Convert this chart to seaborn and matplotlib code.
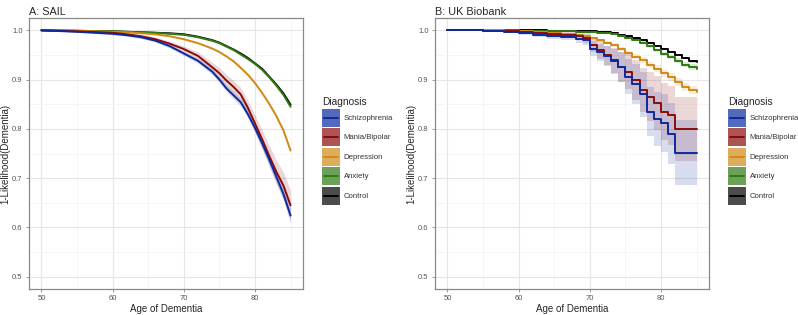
import matplotlib
matplotlib.use("Agg")
import matplotlib.pyplot as plt
import pandas as pd
import seaborn as sns
from matplotlib.lines import Line2D
from matplotlib.patches import Rectangle

# ---- data ----
GROUPS = ["Schizophrenia", "Mania/Bipolar", "Depression", "Anxiety", "Control"]
COLORS = ["#0a2a9e", "#8b0a0a", "#d08a16", "#2f7a12", "#000000"]

# Panel A: SAIL (smooth curves)
AGES_A = [50, 55, 60, 62, 64, 66, 68, 70, 72, 74, 75, 76, 77, 78, 79, 80, 81, 82, 83, 84, 85]
SAIL_SCZ = [1.0, 0.997, 0.993, 0.990, 0.986, 0.979, 0.968, 0.953, 0.938, 0.916, 0.900, 0.882, 0.868, 0.854, 0.830, 0.802, 0.771, 0.738, 0.703, 0.668, 0.624]
SAIL_BIP = [1.0, 0.998, 0.995, 0.992, 0.988, 0.982, 0.973, 0.962, 0.948, 0.925, 0.913, 0.898, 0.885, 0.870, 0.843, 0.811, 0.779, 0.745, 0.713, 0.685, 0.645]
SAIL_DEP = [1.0, 0.999, 0.997, 0.996, 0.994, 0.992, 0.988, 0.982, 0.974, 0.963, 0.956, 0.947, 0.937, 0.924, 0.910, 0.893, 0.873, 0.851, 0.826, 0.797, 0.756]
SAIL_ANX = [1.0, 0.999, 0.998, 0.997, 0.996, 0.995, 0.993, 0.991, 0.986, 0.979, 0.974, 0.967, 0.960, 0.951, 0.942, 0.932, 0.920, 0.905, 0.888, 0.869, 0.845]
SAIL_CTL = [1.0, 0.999, 0.998, 0.997, 0.996, 0.995, 0.994, 0.992, 0.987, 0.980, 0.975, 0.968, 0.961, 0.953, 0.944, 0.933, 0.922, 0.906, 0.890, 0.872, 0.849]
# half-width of the confidence ribbons
SAIL_SCZ_CI = [0, 0.001, 0.002, 0.002, 0.003, 0.003, 0.004, 0.004, 0.005, 0.006, 0.006, 0.007, 0.008, 0.008, 0.009, 0.010, 0.011, 0.012, 0.013, 0.014, 0.016]
SAIL_BIP_CI = [0, 0.001, 0.002, 0.003, 0.003, 0.004, 0.005, 0.006, 0.008, 0.010, 0.011, 0.012, 0.013, 0.014, 0.015, 0.017, 0.019, 0.021, 0.024, 0.027, 0.030]
SAIL_DEP_CI = [0, 0, 0.001, 0.001, 0.001, 0.001, 0.001, 0.002, 0.002, 0.002, 0.002, 0.002, 0.003, 0.003, 0.003, 0.003, 0.003, 0.003, 0.004, 0.004, 0.004]
SAIL_ANX_CI = [0, 0, 0.001, 0.001, 0.001, 0.001, 0.001, 0.001, 0.002, 0.002, 0.002, 0.002, 0.002, 0.002, 0.003, 0.003, 0.003, 0.003, 0.004, 0.004, 0.005]
SAIL_CTL_CI = [0, 0, 0, 0, 0, 0, 0, 0.001, 0.001, 0.001, 0.001, 0.001, 0.001, 0.001, 0.001, 0.001, 0.001, 0.001, 0.001, 0.002, 0.002]

# Panel B: UK Biobank (Kaplan-Meier steps)
AGES_B = [50, 55, 58, 60, 62, 64, 66, 68, 69, 70, 71, 72, 73, 74, 75, 76, 77, 78, 79, 80, 81, 82, 83, 84, 85]
UKB_SCZ = [1.0, 0.999, 0.996, 0.994, 0.991, 0.988, 0.986, 0.983, 0.980, 0.963, 0.955, 0.948, 0.937, 0.925, 0.906, 0.891, 0.870, 0.835, 0.820, 0.812, 0.790, 0.752, 0.752, 0.752, 0.752]
UKB_BIP = [1.0, 0.999, 0.998, 0.997, 0.995, 0.993, 0.991, 0.988, 0.985, 0.970, 0.960, 0.949, 0.939, 0.926, 0.916, 0.899, 0.879, 0.865, 0.852, 0.835, 0.828, 0.800, 0.800, 0.800, 0.800]
UKB_DEP = [1.0, 1.0, 0.999, 0.998, 0.997, 0.995, 0.993, 0.991, 0.989, 0.985, 0.980, 0.975, 0.970, 0.962, 0.953, 0.946, 0.939, 0.930, 0.922, 0.913, 0.906, 0.895, 0.885, 0.879, 0.875]
UKB_ANX = [1.0, 1.0, 1.0, 0.999, 0.999, 0.998, 0.998, 0.997, 0.997, 0.996, 0.995, 0.994, 0.992, 0.989, 0.985, 0.980, 0.975, 0.968, 0.960, 0.952, 0.945, 0.938, 0.930, 0.925, 0.922]
UKB_CTL = [1.0, 1.0, 1.0, 1.0, 1.0, 0.999, 0.999, 0.999, 0.998, 0.998, 0.997, 0.996, 0.994, 0.991, 0.988, 0.984, 0.980, 0.975, 0.968, 0.962, 0.955, 0.950, 0.943, 0.937, 0.935]
UKB_SCZ_CI = [0, 0.001, 0.002, 0.003, 0.004, 0.005, 0.006, 0.008, 0.010, 0.015, 0.018, 0.020, 0.025, 0.030, 0.035, 0.040, 0.045, 0.050, 0.055, 0.058, 0.062, 0.065, 0.065, 0.065, 0.065]
UKB_BIP_CI = [0, 0.001, 0.002, 0.003, 0.004, 0.005, 0.006, 0.008, 0.010, 0.015, 0.018, 0.020, 0.025, 0.030, 0.035, 0.040, 0.045, 0.050, 0.055, 0.058, 0.060, 0.065, 0.065, 0.065, 0.065]
UKB_DEP_CI = [0, 0, 0, 0.001, 0.001, 0.001, 0.002, 0.002, 0.002, 0.003, 0.003, 0.003, 0.004, 0.004, 0.005, 0.005, 0.006, 0.006, 0.007, 0.007, 0.008, 0.008, 0.009, 0.009, 0.009]
UKB_ANX_CI = [0, 0, 0, 0, 0, 0, 0, 0.001, 0.001, 0.001, 0.001, 0.001, 0.001, 0.002, 0.002, 0.002, 0.003, 0.003, 0.003, 0.004, 0.004, 0.005, 0.005, 0.006, 0.006]
UKB_CTL_CI = [0, 0, 0, 0, 0, 0, 0, 0, 0, 0, 0, 0, 0.001, 0.001, 0.001, 0.001, 0.001, 0.001, 0.002, 0.002, 0.002, 0.002, 0.002, 0.003, 0.003]


def to_long(ages, series, cis):
    frames = []
    for name, vals, ci in zip(GROUPS, series, cis):
        frames.append(pd.DataFrame({"age": ages, "surv": vals, "ci": ci, "Diagnosis": name}))
    return pd.concat(frames, ignore_index=True)


df_a = to_long(AGES_A, [SAIL_SCZ, SAIL_BIP, SAIL_DEP, SAIL_ANX, SAIL_CTL],
               [SAIL_SCZ_CI, SAIL_BIP_CI, SAIL_DEP_CI, SAIL_ANX_CI, SAIL_CTL_CI])
df_b = to_long(AGES_B, [UKB_SCZ, UKB_BIP, UKB_DEP, UKB_ANX, UKB_CTL],
               [UKB_SCZ_CI, UKB_BIP_CI, UKB_DEP_CI, UKB_ANX_CI, UKB_CTL_CI])

palette = dict(zip(GROUPS, COLORS))


class KeyHandler:
    """ggplot-style legend key: filled square with the line through its middle."""

    def legend_artist(self, legend, orig_handle, fontsize, handlebox):
        x0, y0 = -handlebox.xdescent, -handlebox.ydescent
        w, h = handlebox.width, handlebox.height
        color = orig_handle.get_color()
        tr = handlebox.get_transform()
        rect = Rectangle((x0, y0), w, h, facecolor=color, alpha=0.7,
                         edgecolor="none", transform=tr)
        line = Line2D([x0 + 0.1 * w, x0 + 0.9 * w], [y0 + h / 2, y0 + h / 2],
                      color=color, lw=1.4, transform=tr)
        handlebox.add_artist(rect)
        handlebox.add_artist(line)
        return rect


sns.set_theme(style="white")
plt.rcParams["font.family"] = ["Liberation Sans", "DejaVu Sans"]

fig = plt.figure(figsize=(7.98, 3.15), dpi=100)
ax_a = fig.add_axes([29 / 798, 26 / 315, 274 / 798, 271 / 315])
ax_b = fig.add_axes([435 / 798, 26 / 315, 274 / 798, 271 / 315])


def draw_panel(ax, df, title, steps):
    # ribbons first, then lines on top (reverse order so schizophrenia ends on top)
    for name in reversed(GROUPS):
        d = df[df["Diagnosis"] == name]
        ax.fill_between(d["age"], d["surv"] - d["ci"], d["surv"] + d["ci"],
                        color=palette[name], alpha=0.16, linewidth=0,
                        step="post" if steps else None)
    kw = {"drawstyle": "steps-post"} if steps else {}
    sns.lineplot(data=df, x="age", y="surv", hue="Diagnosis",
                 hue_order=list(reversed(GROUPS)), palette=palette,
                 errorbar=None, legend=False, linewidth=1.4, ax=ax, **kw)

    ax.set_xlim(48.25, 86.75)
    ax.set_ylim(0.475, 1.025)
    ax.set_xticks([50, 60, 70, 80])
    ax.set_yticks([0.5, 0.6, 0.7, 0.8, 0.9, 1.0])
    ax.set_yticklabels(["0.5", "0.6", "0.7", "0.8", "0.9", "1.0"])
    ax.set_xticks([55, 65, 75, 85], minor=True)
    ax.set_yticks([0.55, 0.65, 0.75, 0.85, 0.95], minor=True)
    ax.grid(True, which="major", color="#e6e6e6", linewidth=0.8)
    ax.grid(True, which="minor", color="#f2f2f2", linewidth=0.5)
    ax.set_axisbelow(True)
    for sp in ax.spines.values():
        sp.set_color("#8a8a8a")
        sp.set_linewidth(0.9)
    ax.tick_params(which="major", length=2.5, width=0.6, color="#8a8a8a",
                   labelsize=5.5, labelcolor="#555555", pad=2, bottom=True, left=True)
    ax.tick_params(which="minor", length=0)
    ax.set_xlabel("Age of Dementia", fontsize=7, labelpad=1)
    ax.set_ylabel("1-Likelihood(Dementia)", fontsize=7, labelpad=1.5)
    ax.set_title(title, loc="left", fontsize=7.8, pad=2)


draw_panel(ax_a, df_a, "A: SAIL", steps=False)
draw_panel(ax_b, df_b, "B: UK Biobank", steps=True)

handles = [Line2D([], [], color=c) for c in COLORS]
for x0 in (322 / 798, 728 / 798):
    leg = fig.legend(handles, GROUPS, loc="upper left", bbox_to_anchor=(x0, 1 - 97 / 315),
                     handler_map={Line2D: KeyHandler()},
                     frameon=False, title="Diagnosis", fontsize=5.6, title_fontsize=7.3,
                     handlelength=2.31, handleheight=3.18, labelspacing=0.2,
                     handletextpad=0.5, borderaxespad=0, borderpad=0)
    leg._legend_box.align = "left"
    for t in leg.get_texts():
        t.set_color("#333333")

fig.savefig("out.png", dpi=100)
